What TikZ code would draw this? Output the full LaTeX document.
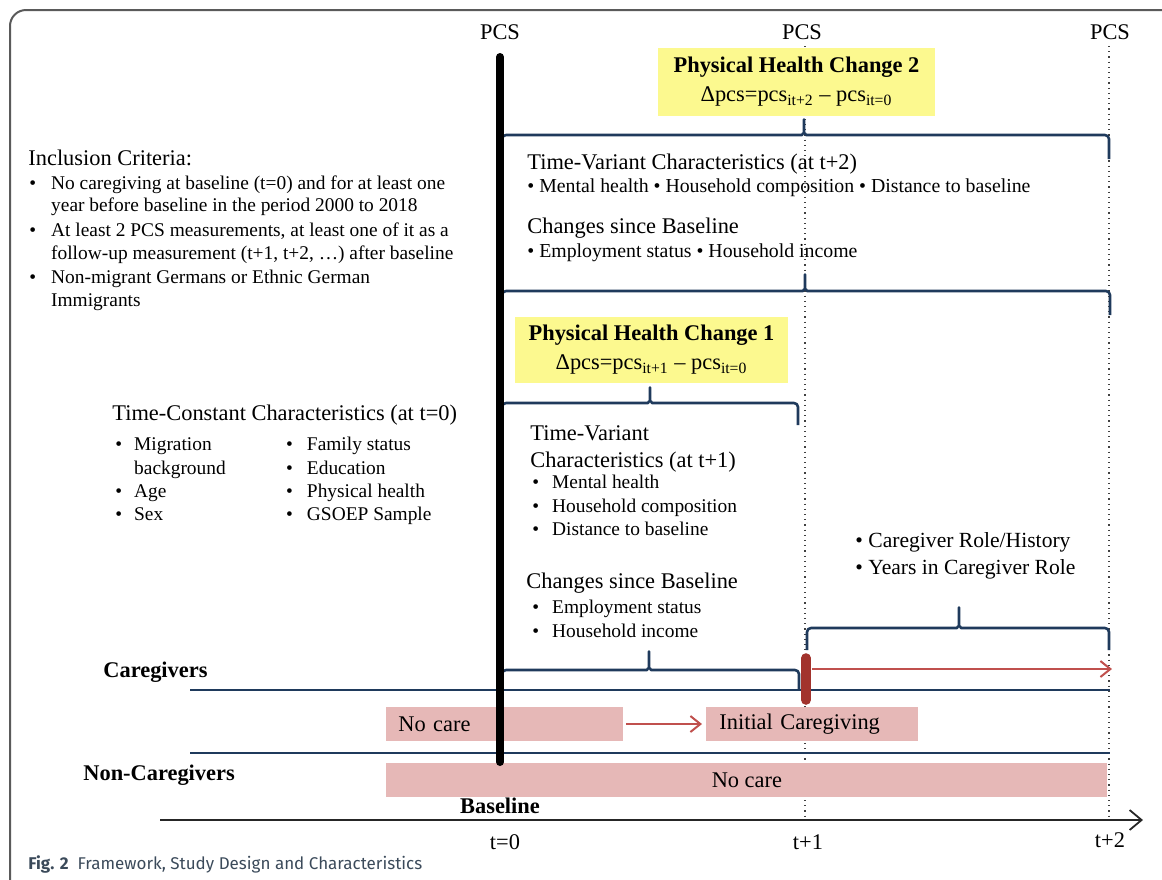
\documentclass[tikz,border=0pt]{standalone}
\usepackage{fontspec}
\setmainfont{Liberation Serif}
\newfontfamily\capfont{Fira Sans}
\usetikzlibrary{arrows.meta}
\definecolor{sbrace}{HTML}{1F3A5C}
\definecolor{fhigh}{HTML}{FCF98F}
\definecolor{fcare}{HTML}{E6B8B7}
\definecolor{sarrow}{HTML}{C0504D}
\definecolor{sonset}{HTML}{A2332D}
\definecolor{sframe}{HTML}{5A5A5A}
\definecolor{scap}{HTML}{3B4A5A}
% #1 left x, #2 cusp x, #3 right x, #4 bar y, #5 end y, #6 cusp y
\newcommand{\capbrace}[6]{%
  \draw[cbrace] (#1,#5) -- (#1,#4) -- (#2-6,#4) to[out=0,in=-90] (#2,#4-6) -- (#2,#6)
    -- (#2,#4-6) to[out=-90,in=180] (#2+6,#4) -- (#3,#4) -- (#3,#5);}

\begin{document}
\begin{tikzpicture}[x=0.5pt,y=-0.5pt,
  lbl/.style={inner sep=0pt,anchor=west,font=\fontsize{11.2}{13}\selectfont},
  sml/.style={inner sep=0pt,anchor=west,font=\fontsize{9.7}{11.7}\selectfont},
  hdr/.style={inner sep=0pt,font=\fontsize{11.2}{13}\selectfont\bfseries},
  cbrace/.style={draw=sbrace,line width=1.3pt,rounded corners=2pt,line join=round},
  track/.style={draw=sbrace,line width=1.1pt},
  carebox/.style={fill=fcare,inner sep=0pt,minimum height=17pt,font=\fontsize{11.2}{13}\selectfont},
  highbox/.style={fill=fhigh,inner sep=0pt,align=center,font=\fontsize{11.2}{14.5}\selectfont},
  tick/.style={draw=black!75,dotted,line width=0.6pt},
  redarrow/.style={draw=sarrow,line width=1pt,-{Straight Barb[length=5pt,width=8pt]}}]
\useasboundingbox (0,0) rectangle (1162,879);
% frame
\draw[sframe,line width=1pt,rounded corners=8pt] (10,900) -- (10,10) -- (1180,10);
% measurement points
\node[lbl,anchor=center] (pcsa) at (500,32) {PCS};
\node[lbl,anchor=center] (pcsb) at (802,32) {PCS};
\node[lbl,anchor=center] (pcsc) at (1110,32) {PCS};
\coordinate (tone) at (805,820);
\coordinate (ttwo) at (1109,820);
\draw[tick] (805,46) -- (tone);
\draw[tick] (1109,46) -- (ttwo);
% braces
\capbrace{502}{804}{1109}{135}{159}{117}
\capbrace{502}{805}{1110}{291}{315}{272}
\capbrace{502}{650}{798}{403}{425}{385}
\capbrace{502}{649}{799}{670}{690}{649}
\capbrace{807}{959}{1109}{628}{650}{605}
% change boxes
\node[highbox,minimum width=138.5pt,minimum height=34pt] (chgtwo) at (796.5,82)
  {\textbf{Physical Health Change 2}\\ Δpcs=pcs\textsubscript{it+2} – pcs\textsubscript{it=0}};
\node[highbox,minimum width=136.5pt,minimum height=33pt] (chgone) at (651.5,350)
  {\textbf{Physical Health Change 1}\\ Δpcs=pcs\textsubscript{it+1} – pcs\textsubscript{it=0}};
% inclusion criteria
\node[lbl] (incl) at (28,158) {Inclusion Criteria:};
\node[sml,anchor=north west,font=\fontsize{9.7}{11.3}\selectfont] (critlist) at (29,173)
  {\begin{tabular}{@{}l@{\hspace{7.5pt}}l@{}}
   \textbullet & No caregiving at baseline (t=0) and for at least one\\
               & year before baseline in the period 2000 to 2018\\[1pt]
   \textbullet & At least 2 PCS measurements, at least one of it as a\\
               & follow-up measurement (t+1, t+2, …) after baseline\\[1pt]
   \textbullet & Non-migrant Germans or Ethnic German\\
               & Immigrants
   \end{tabular}};
% time-constant characteristics
\node[lbl] (tconst) at (112,415) {Time-Constant Characteristics (at t=0)};
\node[sml,anchor=north west] (constlist) at (115,434)
  {\begin{tabular}{@{}l@{\hspace{6pt}}p{76pt}@{}l@{\hspace{7pt}}l@{}}
   \textbullet & Migration  & \textbullet & Family status\\
               & background & \textbullet & Education\\
   \textbullet & Age        & \textbullet & Physical health\\
   \textbullet & Sex        & \textbullet & GSOEP Sample
   \end{tabular}};
% characteristics at t+2
\node[lbl] (tvartwo) at (527,164) {Time-Variant Characteristics (at t+2)};
\node[sml,font=\fontsize{9.9}{12}\selectfont] (vartwolist) at (527,188)
  {\textbullet\ Mental health \textbullet\ Household composition \textbullet\ Distance to baseline};
\node[lbl] (chgsincetwo) at (527,228) {Changes since Baseline};
\node[sml,font=\fontsize{9.9}{12}\selectfont] (sincetwolist) at (527,253)
  {\textbullet\ Employment status \textbullet\ Household income};
% characteristics at t+1
\node[lbl,anchor=north west,align=left,font=\fontsize{11.2}{13.5}\selectfont] (tvarone) at (530,425)
  {Time-Variant\\ Characteristics (at t+1)};
\node[sml,anchor=north west] (varonelist) at (532,472)
  {\begin{tabular}{@{}l@{\hspace{6.5pt}}l@{}}
   \textbullet & Mental health\\
   \textbullet & Household composition\\
   \textbullet & Distance to baseline
   \end{tabular}};
\node[lbl] (chgsinceone) at (526,583) {Changes since Baseline};
\node[sml,anchor=north west] (sinceonelist) at (532,597)
  {\begin{tabular}{@{}l@{\hspace{6.5pt}}l@{}}
   \textbullet & Employment status\\
   \textbullet & Household income
   \end{tabular}};
% caregiver role
\node[lbl,align=left,font=\fontsize{10.8}{13.5}\selectfont] (carerole) at (855,556)
  {\textbullet\ Caregiver Role/History\\ \textbullet\ Years in Caregiver Role};
% groups
\node[hdr,anchor=west] (cgroup) at (103,672) {Caregivers};
\node[hdr,anchor=west] (ngroup) at (83,775) {Non-Caregivers};
\draw[track] (190,690) -- (1110,690);
\draw[track] (190,753) -- (1110,753);
\node[carebox,anchor=west,minimum width=118.5pt,text width=106.5pt,align=left] (nocare) at (386,724) {No care};
\node[carebox,anchor=west,minimum width=106pt,text width=93pt,align=left] (initcare) at (706,724) {Initial Caregiving};
\draw[redarrow] ([xshift=1pt]nocare.east) -- ([xshift=-2pt]initcare.west);
\node[carebox,anchor=west,minimum width=360.5pt] (nocarenon) at (386,780) {No care};
% baseline and onset
\coordinate (basetop) at (500,57);
\coordinate (basebot) at (500,762);
\draw[black,line width=4pt,line cap=round] (basetop) -- (basebot);
\coordinate (onsettop) at (806,658);
\coordinate (onsetbot) at (806,700);
\draw[sonset,line width=4.8pt,line cap=round] (onsettop) -- (onsetbot);
\coordinate (roleend) at (1112,669);
\draw[redarrow] (812,669) -- (roleend);
% time axis
\coordinate (axstart) at (160,820);
\coordinate (axend) at (1143,820);
\draw[black!85,line width=0.9pt,-{Straight Barb[length=6pt,width=10pt]}] (axstart) -- (axend);
\node[hdr] (baseline) at (500,806) {Baseline};
\node[lbl,anchor=center] (tzero) at (505,842) {t=0};
\node[lbl,anchor=center] (tonelbl) at (808,842) {t+1};
\node[lbl,anchor=center] (ttwolbl) at (1110,840) {t+2};
% caption
\node[inner sep=0pt,anchor=west,font=\capfont\fontsize{8.5}{10}\selectfont,text=scap] (caption) at (28,864)
  {\textbf{Fig. 2}\ \ Framework, Study Design and Characteristics};
\end{tikzpicture}
\end{document}
